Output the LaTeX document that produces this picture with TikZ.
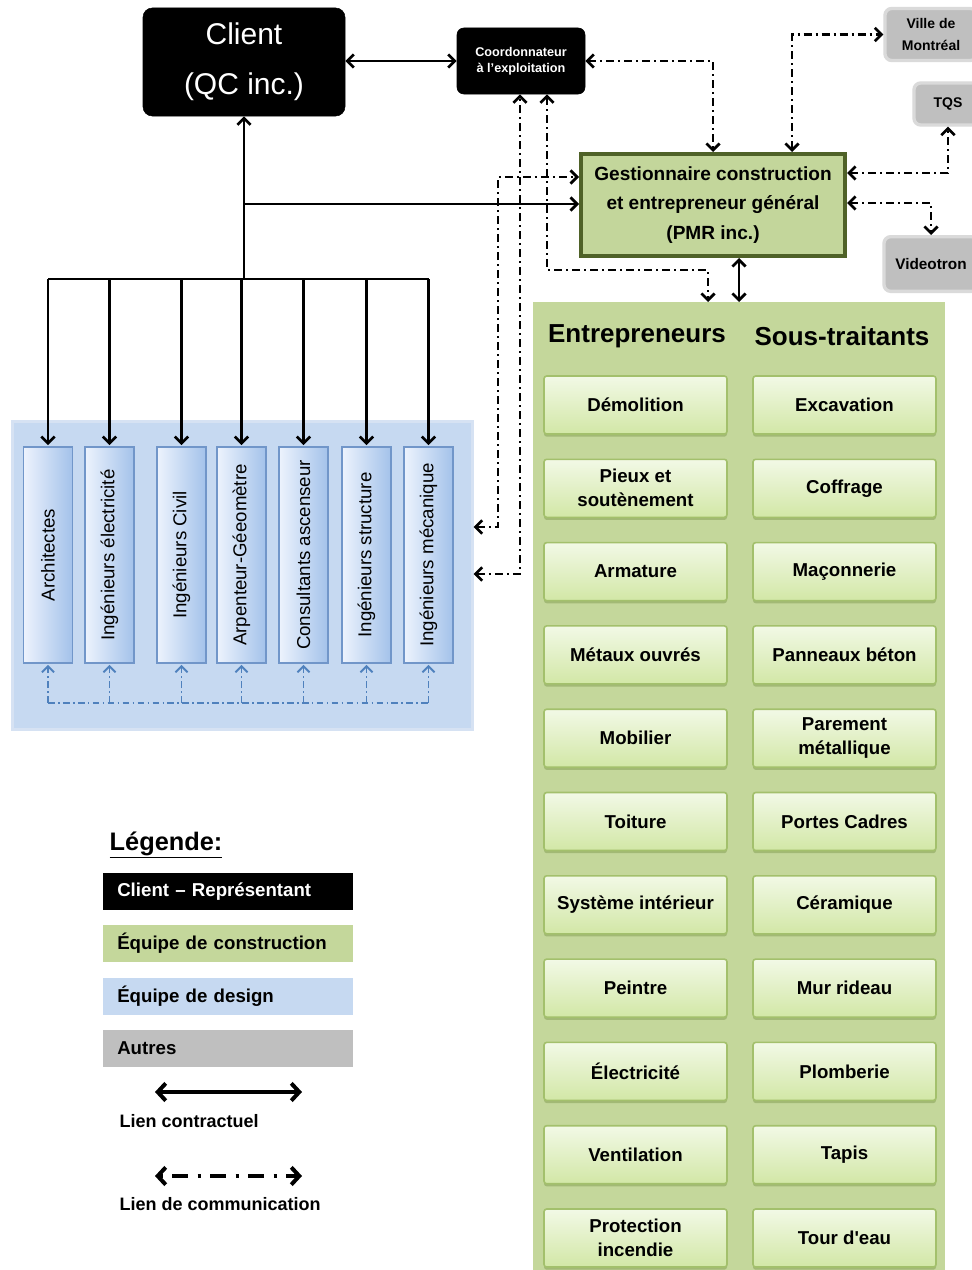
\documentclass[tikz,border=0pt]{standalone}
\usepackage{fontspec}
\setmainfont{Liberation Sans}
\usetikzlibrary{arrows.meta,shadows}
\definecolor{panelgreen}{HTML}{C4D79B}
\definecolor{gestfill}{HTML}{C3D69B}
\definecolor{gestdraw}{HTML}{4F6228}
\definecolor{gtop}{HTML}{F2F9E6}
\definecolor{gbot}{HTML}{D2E7A6}
\definecolor{gedge}{HTML}{A3C06C}
\definecolor{gshadow}{HTML}{7A9548}
\definecolor{designbg}{HTML}{C6D9F1}
\definecolor{designedge}{HTML}{D6E2F3}
\definecolor{vleft}{HTML}{EDF3FD}
\definecolor{vright}{HTML}{A3C2EA}
\definecolor{vedge}{HTML}{7196C9}
\definecolor{blueline}{HTML}{4F81BD}
\definecolor{grayfill}{HTML}{BFBFBF}
\definecolor{grayedge}{HTML}{DADADA}
\begin{document}
\begin{tikzpicture}[x=0.75pt,y=-0.75pt,
  >={Straight Barb[length=5pt,width=10pt]},
  conn/.style={line width=2pt,draw=black},
  comm/.style={line width=2pt,draw=black,dash pattern=on 6pt off 3pt on 1.5pt off 3pt},
  bcomm/.style={line width=1.4pt,draw=blueline,dash pattern=on 5pt off 2.5pt on 1.2pt off 2.5pt,
     >={Straight Barb[length=4.5pt,width=9pt]}},
  blackbox/.style={fill=black,draw=black,rounded corners=7pt,text=white,align=center},
  gbox/.style={rounded corners=2pt,draw=gedge,line width=1.2pt,top color=gtop,bottom color=gbot,
     minimum width=137.25pt,minimum height=43.5pt,align=center,inner sep=1pt,
     font=\bfseries\fontsize{14}{18}\selectfont,
     drop shadow={shadow xshift=0pt,shadow yshift=-2pt,fill=gshadow,opacity=0.45}},
  vbox/.style={draw=vedge,line width=0.9pt,left color=vleft,right color=vright,
     minimum width=36.75pt,minimum height=162pt,inner sep=0pt,
     drop shadow={shadow xshift=0.6pt,shadow yshift=-1pt,fill=vedge,opacity=0.35}},
  graybox/.style={fill=grayfill,draw=grayedge,line width=2.5pt,rounded corners=5pt,align=center,
     font=\bfseries\fontsize{10.5}{16}\selectfont},
  legbar/.style={minimum height=27.75pt,text width=166.5pt,inner xsep=10.5pt,inner ysep=0pt,
     align=left,anchor=west,font=\bfseries\fontsize{14}{17}\selectfont},
  legtext/.style={anchor=west,font=\bfseries\fontsize{13.5}{16}\selectfont}
]
\fill[white] (0,0) rectangle (971,1270);
\useasboundingbox (0,0) rectangle (971,1270);

% ---------- panels ----------
\node[fill=panelgreen,minimum width=309pt,minimum height=726pt,anchor=north west,inner sep=0pt] (ent) at (533,302) {};
\node[fill=designbg,draw=designedge,line width=2pt,minimum width=345pt,minimum height=231pt,anchor=north west,inner sep=0pt] (design) at (11,420) {};

% ---------- top nodes ----------
\node[blackbox,minimum width=151.5pt,minimum height=81pt,font=\fontsize{22.5}{37.5}\selectfont] (client) at (244,62) {Client\\(QC inc.)};
\node[blackbox,rounded corners=5pt,minimum width=96pt,minimum height=49.5pt,font=\bfseries\fontsize{9.5}{12}\selectfont] (coord) at (521,61) {Coordonnateur\\à l’exploitation};
\node[fill=gestfill,draw=gestdraw,line width=3pt,minimum width=198pt,minimum height=76.5pt,align=center,
      font=\bfseries\fontsize{14.3}{22}\selectfont] (gest) at (713,205) {Gestionnaire construction\\et entrepreneur général\\(PMR inc.)};

\node[graybox,minimum width=69pt,minimum height=39pt] (ville) at (931,34.5) {Ville de\\Montréal};
\node[graybox,minimum width=51pt,minimum height=31.5pt] (tqs) at (948,104) {TQS};
\node[graybox,minimum width=70.5pt,minimum height=41pt,font=\bfseries\fontsize{11.5}{14}\selectfont] (video) at (931,264) {Videotron};

% ---------- entrepreneurs ----------
\node[font=\bfseries\fontsize{19.5}{23}\selectfont] (hE) at (637,336) {Entrepreneurs};
\node[font=\bfseries\fontsize{19.5}{23}\selectfont] (hS) at (842,336) {Sous-traitants};

\foreach \t [count=\i from 0] in {Démolition,{Pieux et\\soutènement},Armature,Métaux ouvrés,Mobilier,Toiture,Système intérieur,Peintre,Électricité,Ventilation,{Protection\\incendie}}
  \node[gbox] (e\i) at (635.5,{405+83.3*\i}) {\t};
\foreach \t [count=\i from 0] in {Excavation,Coffrage,Maçonnerie,Panneaux béton,{Parement\\métallique},Portes Cadres,Céramique,Mur rideau,Plomberie,Tapis,{Tour d\textquotesingle eau}}
  \node[gbox] (s\i) at (844.5,{405+83.3*\i}) {\t};

% ---------- design team ----------
\foreach \x/\t [count=\i] in {48/Architectes,109.5/Ingénieurs électricité,181.5/Ingénieurs Civil,241.5/Arpenteur-Géeomètre,303.5/Consultants ascenseur,366.5/Ingénieurs structure,428.5/Ingénieurs mécanique}{
  \node[vbox] (d\i) at (\x,555) {};
  \node[rotate=90,font=\fontsize{14}{16}\selectfont] (t\i) at (d\i) {\t};
}

% blue communication between design boxes
\coordinate (bl) at (0,703);
\draw[bcomm] (d1.south |- bl) -- (d7.south |- bl);
\foreach \i in {1,...,7}
  \draw[bcomm,->] (d\i.south |- bl) -- ([yshift=-1pt]d\i.south);

% ---------- contractual links ----------
\coordinate (bar) at (0,279);
\draw[conn,->] (client.south |- bar) -- (client.south);
\draw[conn] (d1.north |- bar) -- (d7.north |- bar);
\foreach \i in {1,...,7}
  \draw[conn,->] (d\i.north |- bar) -- ([yshift=1pt]d\i.north);
\draw[conn,->] (client.south |- 0,204) -- (gest.west |- 0,204);
\draw[conn,<->] (client.east |- coord.west) -- (coord.west);
\draw[conn,<->] (gest.south -| 739,0) -- (ent.north -| 739,0);

% ---------- communication links ----------
\coordinate (cA) at (498,527);
\coordinate (cB) at (520,574);
\coordinate (cC1) at (547,270);
\coordinate (cC2) at (708,270);
\draw[comm,<->] (design.east |- cA) -- (cA) |- (gest.west |- 0,177);
\draw[comm,<->] (design.east |- cB) -| (coord.south -| cB);
\draw[comm,<->] (coord.south -| cC1) -- (cC1) -- (cC2) -- (ent.north -| cC2);
\draw[comm,<->] (coord.east) -| (gest.north);
\draw[comm,<->] (gest.north -| 792,0) |- (ville.west);
\draw[comm,<->] (gest.east |- 0,173) -| (tqs.south);
\draw[comm,<->] (gest.east |- 0,203) -| (video.north);

% ---------- legend ----------
\node[anchor=west,font=\bfseries\fontsize{19}{22}\selectfont] (leg) at (105,845) {\underline{Légende:}};
\node[legbar,fill=black,text=white] (lg1) at (103,891.5) {Client – Représentant};
\node[legbar,fill=panelgreen] (lg2) at (103,943.5) {Équipe de construction};
\node[legbar,fill=designbg] (lg3) at (103,996) {Équipe de design};
\node[legbar,fill=grayfill] (lg4) at (103,1048.5) {Autres};

\coordinate (la1) at (155,1092);
\coordinate (la2) at (302,1092);
\draw[line width=3pt,{Straight Barb[length=6pt,width=13pt]}-{Straight Barb[length=6pt,width=13pt]}] (la1) -- (la2);
\node[legtext] (lt1) at (115,1121) {Lien contractuel};
\coordinate (lb1) at (155,1176);
\coordinate (lb2) at (302,1176);
\draw[line width=3pt,dash pattern=on 2.5pt off 7pt on 12pt off 7pt,{Straight Barb[length=6pt,width=13pt]}-{Straight Barb[length=6pt,width=13pt]}] (lb1) -- (lb2);
\node[legtext] (lt2) at (115,1204) {Lien de communication};
\end{tikzpicture}
\end{document}
